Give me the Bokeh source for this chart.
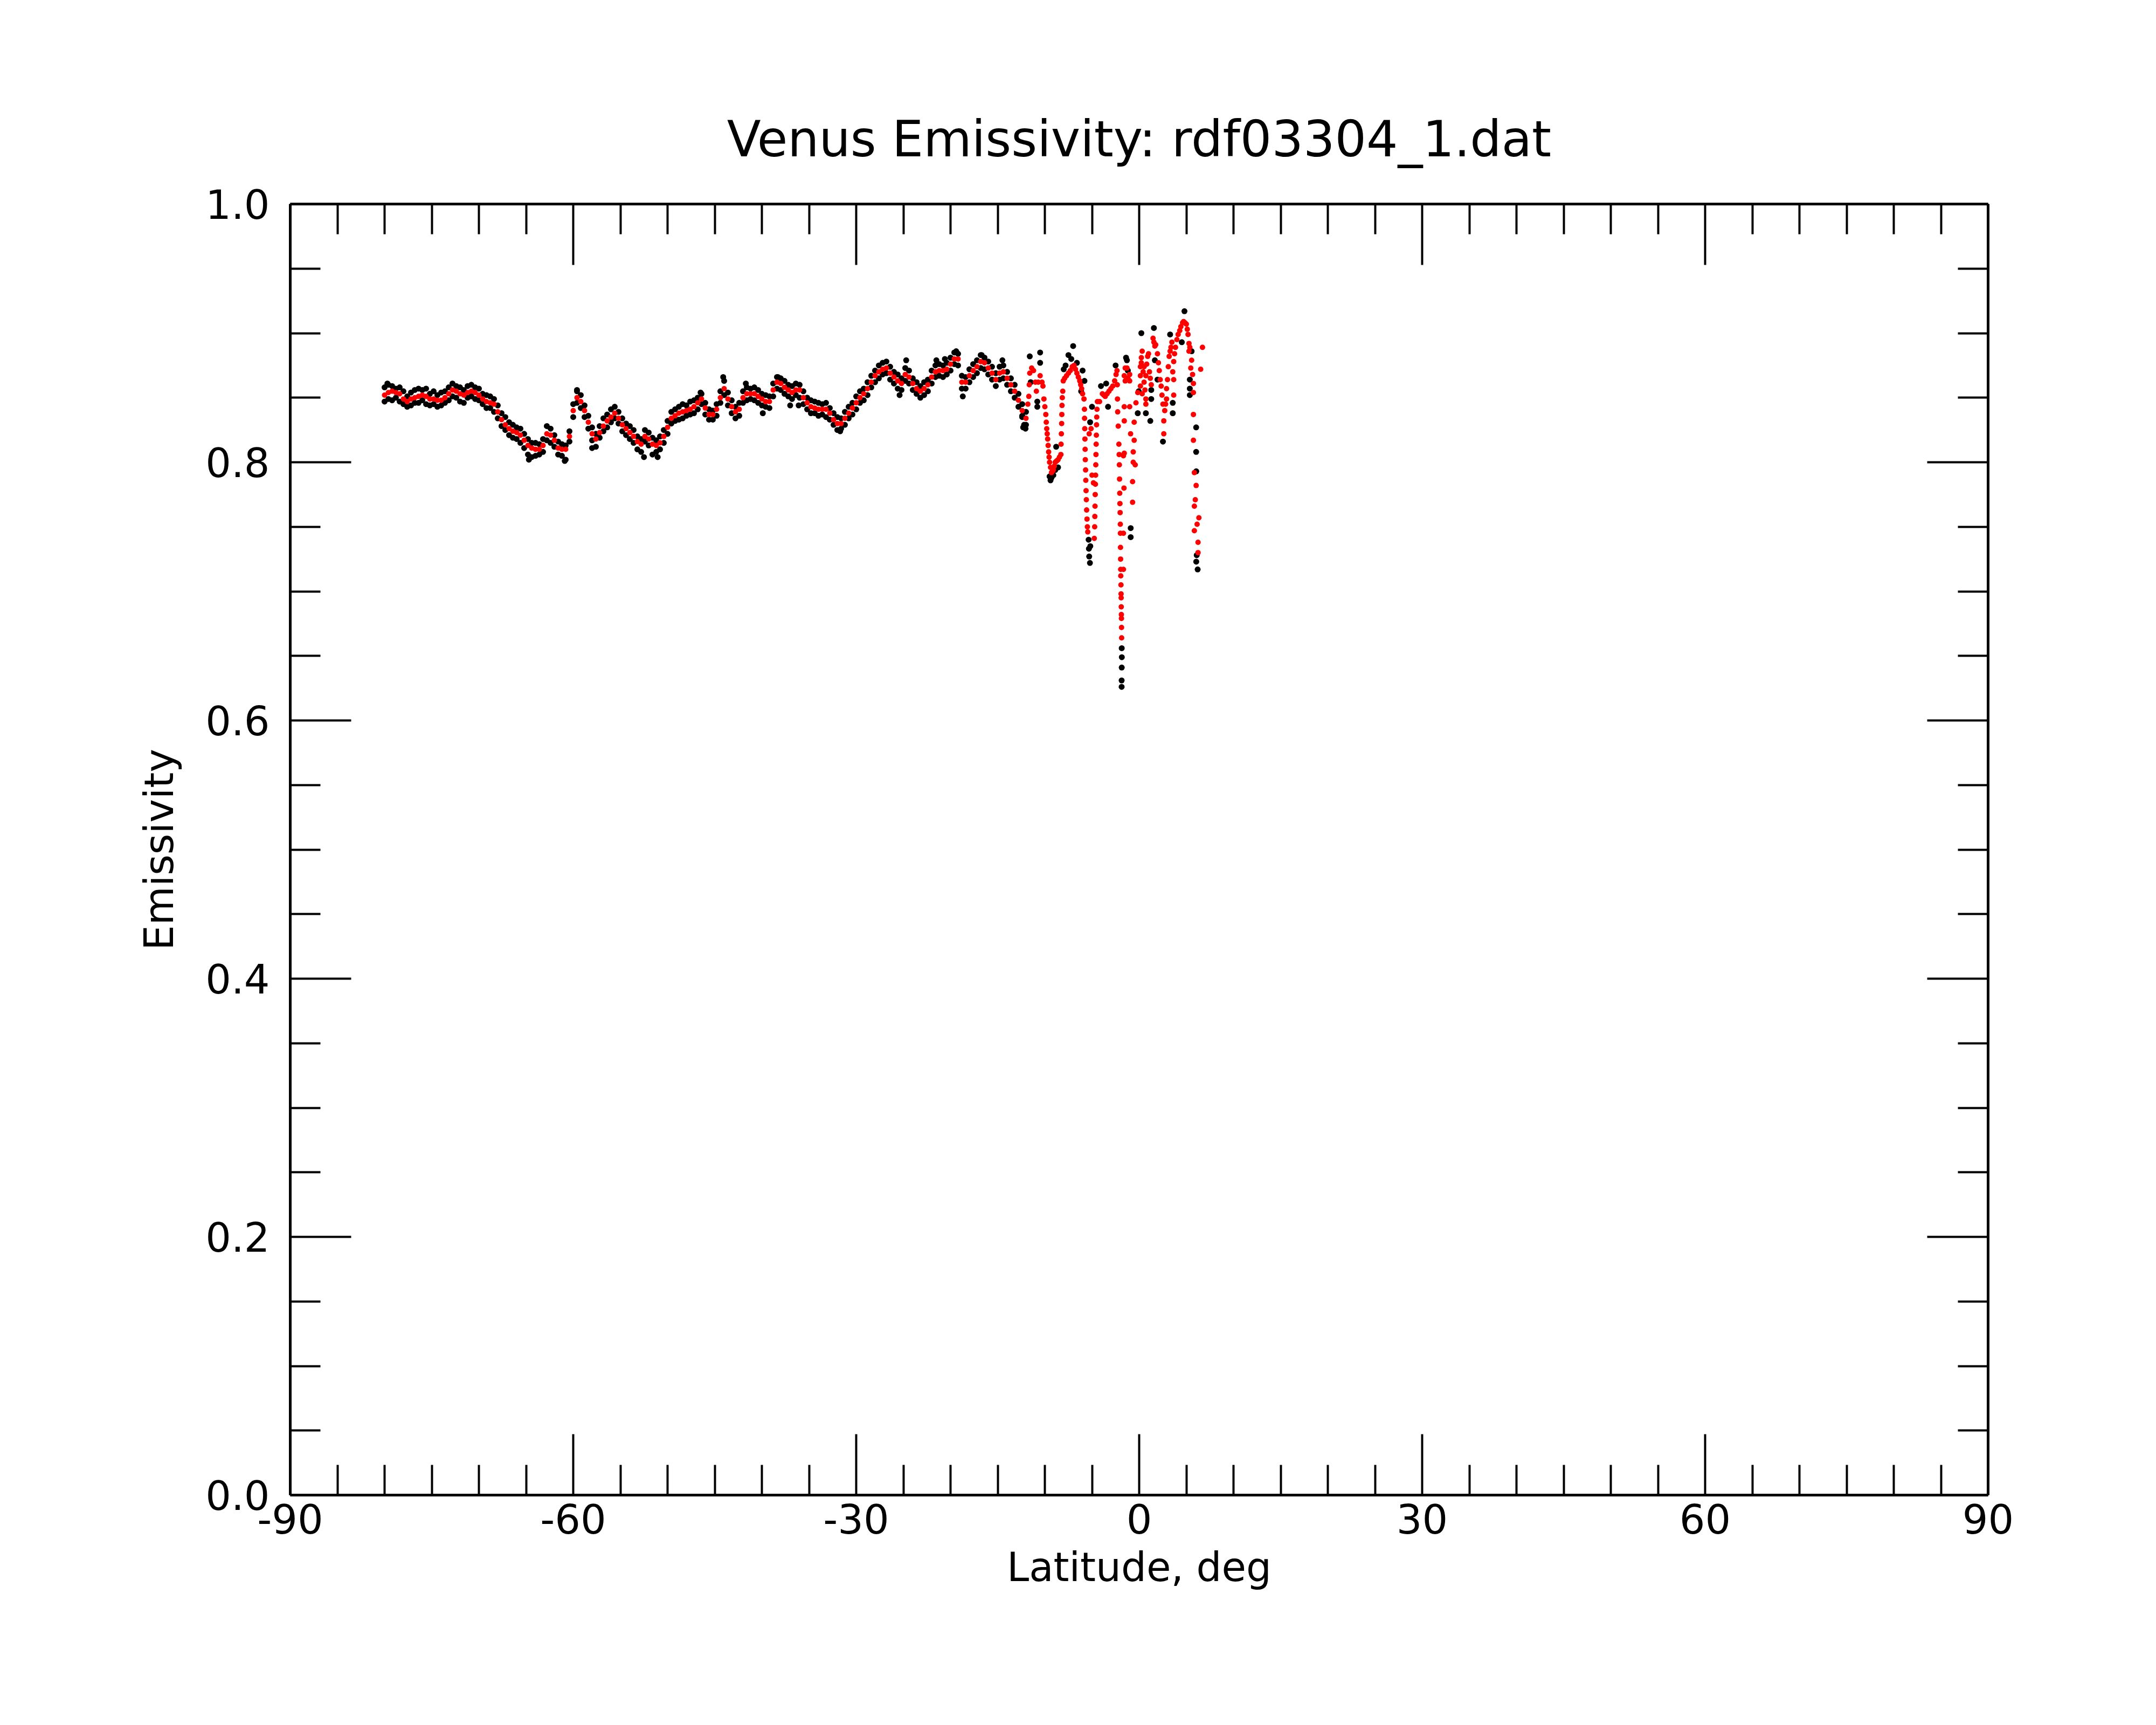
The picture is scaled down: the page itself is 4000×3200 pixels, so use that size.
from bokeh.plotting import figure
from bokeh.models import FixedTicker, LinearAxis, PrintfTickFormatter, CustomJSTickFormatter, Range1d
from bokeh.embed import file_html
from bokeh.resources import INLINE

# ---------------- data ----------------
lat_dense = [
    -80.0, -79.6, -79.2, -78.8, -78.4, -78.0, -77.6, -77.2, -76.8, -76.4,
    -76.0, -75.6, -75.2, -74.8, -74.4, -74.0, -73.6, -73.2, -72.8, -72.4,
    -72.0, -71.6, -71.2, -70.8, -70.4, -70.0, -69.6, -69.2, -68.8, -68.4,
    -68.0, -67.6, -67.2, -66.8, -66.4, -66.0, -65.6, -65.2, -64.8, -64.4,
    -64.0, -63.6, -63.2, -62.8, -62.4, -62.0, -61.6, -61.2, -60.8, -60.4,
    -60.0, -59.6, -59.2, -58.8, -58.4, -58.0, -57.6, -57.2, -56.8, -56.4,
    -56.0, -55.6, -55.2, -54.8, -54.4, -54.0, -53.6, -53.2, -52.8, -52.4,
    -52.0, -51.6, -51.2, -50.8, -50.4, -50.0, -49.6, -49.2, -48.8, -48.4,
    -48.0, -47.6, -47.2, -46.8, -46.4, -46.0, -45.6, -45.2, -44.8, -44.4,
    -44.0, -43.6, -43.2, -42.8, -42.4, -42.0, -41.6, -41.2, -40.8, -40.4,
    -40.0, -39.6, -39.2, -38.8, -38.4, -38.0, -37.6, -37.2, -36.8, -36.4,
    -36.0, -35.6, -35.2, -34.8, -34.4, -34.0, -33.6, -33.2, -32.8, -32.4,
    -32.0, -31.6, -31.2, -30.8, -30.4, -30.0, -29.6, -29.2, -28.8, -28.4,
    -28.0, -27.6, -27.2, -26.8, -26.4, -26.0, -25.6, -25.2, -24.8, -24.4,
    -24.0, -23.6, -23.2, -22.8, -22.4, -22.0, -21.6, -21.2, -20.8, -20.4,
    -20.0, -19.6, -19.2, -18.8, -18.4, -18.0, -17.6, -17.2, -16.8, -16.4,
    -16.0, -15.6, -15.2, -14.8, -14.4, -14.0, -13.6, -13.2, -12.8, -12.4,
    -12.0,
]

# smoothed emissivity (red)
red_dense = [
    0.852, 0.854, 0.855, 0.854, 0.853, 0.849, 0.847, 0.849, 0.850, 0.851,
    0.852, 0.851, 0.849, 0.849, 0.848, 0.848, 0.850, 0.853, 0.856, 0.855,
    0.853, 0.852, 0.854, 0.855, 0.854, 0.852, 0.849, 0.847, 0.846, 0.845,
    0.839, 0.833, 0.829, 0.826, 0.824, 0.823, 0.821, 0.817, 0.813, 0.811,
    0.810, 0.810, 0.813, 0.822, 0.821, 0.817, 0.811, 0.810, 0.810, 0.820,
    0.840, 0.850, 0.847, 0.840, 0.831, 0.822, 0.818, 0.823, 0.828, 0.832,
    0.835, 0.838, 0.834, 0.829, 0.826, 0.823, 0.820, 0.816, 0.814, 0.820,
    0.818, 0.814, 0.813, 0.815, 0.820, 0.827, 0.834, 0.836, 0.838, 0.839,
    0.840, 0.841, 0.843, 0.846, 0.849, 0.842, 0.837, 0.837, 0.841, 0.850,
    0.857, 0.849, 0.843, 0.839, 0.841, 0.850, 0.853, 0.853, 0.853, 0.851,
    0.849, 0.847, 0.847, 0.856, 0.862, 0.861, 0.858, 0.856, 0.854, 0.856,
    0.856, 0.850, 0.846, 0.843, 0.842, 0.841, 0.841, 0.841, 0.838, 0.833,
    0.830, 0.830, 0.834, 0.838, 0.842, 0.846, 0.850, 0.853, 0.857, 0.862,
    0.867, 0.870, 0.872, 0.873, 0.869, 0.866, 0.863, 0.861, 0.868, 0.866,
    0.861, 0.857, 0.855, 0.857, 0.860, 0.866, 0.870, 0.871, 0.871, 0.872,
    0.876, 0.880, 0.880, 0.862, 0.862, 0.867, 0.871, 0.874, 0.878, 0.877,
    0.873, 0.869, 0.864, 0.869, 0.870, 0.865, 0.860, 0.855, 0.848, 0.840,
    0.834,
]

# raw emissivity (black), upper and lower scatter around the smoothed curve
black_hi = [
    0.858, 0.860, 0.859, 0.857, 0.858, 0.855, 0.851, 0.854, 0.856, 0.857,
    0.856, 0.857, 0.853, 0.855, 0.852, 0.854, 0.855, 0.858, 0.861, 0.859,
    0.858, 0.856, 0.859, 0.860, 0.858, 0.857, 0.853, 0.852, 0.851, 0.849,
    0.844, 0.838, 0.835, 0.831, 0.829, 0.827, 0.826, 0.822, 0.818, 0.815,
    0.815, 0.814, 0.818, 0.828, 0.826, 0.821, 0.816, 0.814, 0.813, 0.824,
    0.845, 0.856, 0.852, 0.844, 0.836, 0.827, 0.822, 0.828, 0.834, 0.837,
    0.841, 0.843, 0.839, 0.834, 0.830, 0.828, 0.825, 0.820, 0.818, 0.825,
    0.823, 0.819, 0.817, 0.820, 0.825, 0.832, 0.839, 0.841, 0.843, 0.845,
    0.844, 0.847, 0.848, 0.850, 0.853, 0.846, 0.841, 0.840, 0.845, 0.855,
    0.863, 0.854, 0.848, 0.843, 0.846, 0.855, 0.858, 0.857, 0.858, 0.856,
    0.853, 0.852, 0.851, 0.861, 0.866, 0.865, 0.863, 0.860, 0.859, 0.861,
    0.860, 0.855, 0.850, 0.848, 0.847, 0.846, 0.845, 0.846, 0.842, 0.838,
    0.835, 0.834, 0.839, 0.843, 0.846, 0.851, 0.855, 0.857, 0.862, 0.867,
    0.871, 0.875, 0.877, 0.878, 0.874, 0.870, 0.868, 0.865, 0.873, 0.871,
    0.865, 0.862, 0.859, 0.862, 0.864, 0.871, 0.875, 0.876, 0.875, 0.877,
    0.881, 0.885, 0.884, 0.867, 0.866, 0.872, 0.876, 0.879, 0.883, 0.881,
    0.878, 0.874, 0.869, 0.874, 0.875, 0.870, 0.865, 0.860, 0.853, 0.845,
    0.839,
]
black_lo = [
    0.847, 0.849, 0.848, 0.850, 0.847, 0.845, 0.843, 0.844, 0.846, 0.846,
    0.848, 0.845, 0.844, 0.845, 0.843, 0.844, 0.846, 0.848, 0.851, 0.850,
    0.847, 0.846, 0.850, 0.851, 0.849, 0.848, 0.845, 0.842, 0.842, 0.839,
    0.834, 0.828, 0.825, 0.821, 0.819, 0.818, 0.815, 0.811, 0.806, 0.804,
    0.805, 0.806, 0.808, 0.817, 0.815, 0.812, 0.806, 0.805, 0.802, 0.816,
    0.835, 0.846, 0.842, 0.835, 0.826, 0.817, 0.812, 0.819, 0.824, 0.827,
    0.831, 0.834, 0.830, 0.824, 0.821, 0.818, 0.815, 0.810, 0.808, 0.816,
    0.813, 0.806, 0.808, 0.810, 0.815, 0.822, 0.830, 0.832, 0.833, 0.834,
    0.836, 0.837, 0.838, 0.841, 0.845, 0.837, 0.833, 0.833, 0.836, 0.846,
    0.852, 0.844, 0.838, 0.834, 0.836, 0.846, 0.848, 0.849, 0.848, 0.846,
    0.844, 0.843, 0.842, 0.851, 0.857, 0.856, 0.853, 0.851, 0.849, 0.852,
    0.850, 0.845, 0.841, 0.838, 0.838, 0.836, 0.837, 0.835, 0.833, 0.829,
    0.825, 0.826, 0.829, 0.834, 0.837, 0.841, 0.846, 0.848, 0.852, 0.858,
    0.862, 0.865, 0.868, 0.869, 0.864, 0.861, 0.857, 0.856, 0.863, 0.861,
    0.856, 0.853, 0.850, 0.852, 0.855, 0.861, 0.866, 0.867, 0.866, 0.868,
    0.871, 0.876, 0.875, 0.857, 0.857, 0.862, 0.866, 0.869, 0.873, 0.872,
    0.868, 0.864, 0.859, 0.864, 0.865, 0.860, 0.855, 0.850, 0.843, 0.836,
    0.829,
]

# smoothed emissivity (red) in the sparse equatorial part: (latitude, emissivity)
red_sparse = [
    (-11.8, 0.845), (-11.7, 0.851), (-11.65, 0.860), (-11.6, 0.869), (-11.4, 0.873),
    (-11.2, 0.871), (-11.0, 0.862), (-10.9, 0.855), (-10.7, 0.862), (-10.5, 0.867),
    (-10.3, 0.862), (-10.2, 0.859), (-10.1, 0.849), (-10.0, 0.843), (-9.9, 0.837),
    (-9.85, 0.831), (-9.8, 0.826), (-9.75, 0.822), (-9.7, 0.818), (-9.65, 0.813),
    (-9.6, 0.808), (-9.55, 0.804), (-9.5, 0.800), (-9.4, 0.796), (-9.3, 0.792),
    (-9.2, 0.793), (-9.1, 0.794), (-9.0, 0.797), (-8.9, 0.800), (-8.75, 0.801),
    (-8.6, 0.802), (-8.45, 0.804), (-8.3, 0.806), (-8.28, 0.814), (-8.25, 0.822),
    (-8.22, 0.830), (-8.2, 0.837), (-8.18, 0.844), (-8.15, 0.850), (-8.1, 0.855),
    (-8.05, 0.863), (-7.9, 0.865), (-7.7, 0.867), (-7.5, 0.869), (-7.3, 0.871),
    (-7.1, 0.874), (-6.9, 0.875), (-6.75, 0.872), (-6.6, 0.869), (-6.45, 0.866),
    (-6.3, 0.863), (-6.2, 0.860), (-6.1, 0.857), (-6.0, 0.853), (-5.85, 0.849),
    (-5.80, 0.841), (-5.79, 0.834), (-5.77, 0.826), (-5.75, 0.818), (-5.73, 0.810),
    (-5.71, 0.802), (-5.68, 0.794), (-5.66, 0.786), (-5.63, 0.778), (-5.60, 0.771),
    (-5.57, 0.763), (-5.53, 0.756), (-5.49, 0.750), (-5.45, 0.746),
    (-5.3, 0.822), (-5.1, 0.826), (-5.0, 0.790), (-4.85, 0.784),
    (-4.76, 0.741), (-4.72, 0.750), (-4.70, 0.758), (-4.68, 0.766), (-4.66, 0.775),
    (-4.64, 0.783), (-4.62, 0.790), (-4.60, 0.798), (-4.58, 0.806), (-4.56, 0.814),
    (-4.54, 0.821), (-4.52, 0.829), (-4.50, 0.835), (-4.47, 0.841), (-4.43, 0.847),
    (-4.2, 0.847), (-3.9, 0.853), (-3.75, 0.852), (-3.6, 0.851), (-3.4, 0.853),
    (-3.2, 0.855), (-3.0, 0.857), (-2.8, 0.859), (-2.6, 0.863), (-2.45, 0.868),
    (-2.35, 0.871),
    (-2.32, 0.860), (-2.30, 0.849), (-2.28, 0.839), (-2.22, 0.828), (-2.15, 0.814),
    (-2.12, 0.806), (-2.10, 0.798), (-2.08, 0.787), (-2.06, 0.776), (-2.04, 0.768),
    (-2.02, 0.761), (-2.00, 0.752), (-1.99, 0.745), (-1.98, 0.734), (-1.97, 0.725),
    (-1.96, 0.717), (-1.95, 0.712), (-1.93, 0.705), (-1.92, 0.698), (-1.91, 0.695),
    (-1.90, 0.688), (-1.89, 0.682), (-1.88, 0.679), (-1.87, 0.672), (-1.86, 0.664),
    (-1.67, 0.717), (-1.67, 0.745), (-1.61, 0.780), (-1.67, 0.805), (-1.58, 0.807),
    (-1.58, 0.832), (-1.58, 0.843), (-1.58, 0.867), (-1.48, 0.873), (-1.48, 0.863),
    (-1.29, 0.873), (-1.2, 0.865), (-1.01, 0.868), (-1.01, 0.863), (-1.01, 0.843),
    (-0.91, 0.822), (-0.70, 0.785), (-0.70, 0.769), (-0.63, 0.808), (-0.63, 0.800),
    (-0.53, 0.831), (-0.53, 0.817), (-0.42, 0.798), (-0.34, 0.846), (-0.15, 0.854),
    (0.13, 0.859), (0.32, 0.853), (0.32, 0.886), (0.23, 0.881), (0.13, 0.874),
    (0.52, 0.874), (0.13, 0.867), (0.71, 0.867), (0.90, 0.882), (0.99, 0.884),
    (1.09, 0.870), (0.71, 0.849), (0.71, 0.845), (1.28, 0.860), (1.47, 0.896),
    (1.75, 0.891), (1.94, 0.884), (2.04, 0.877), (2.13, 0.871), (2.23, 0.864),
    (2.33, 0.859), (2.42, 0.852), (2.52, 0.845), (2.71, 0.840), (2.61, 0.832),
    (2.61, 0.822), (2.90, 0.849), (2.90, 0.857), (3.00, 0.864), (3.09, 0.874),
    (3.18, 0.882), (3.37, 0.889), (3.47, 0.893), (3.66, 0.852), (3.66, 0.864),
    (3.66, 0.878), (3.85, 0.889), (4.13, 0.899), (4.42, 0.905), (4.71, 0.909),
    (5.00, 0.907), (5.18, 0.899), (5.28, 0.892), (5.28, 0.886), (5.56, 0.879),
    (5.47, 0.873), (5.66, 0.868), (5.75, 0.861), (5.75, 0.854), (5.75, 0.837),
    (5.75, 0.817), (6.71, 0.889), (6.52, 0.872),
    (0.23, 0.877), (0.42, 0.870), (0.52, 0.862), (0.61, 0.856), (0.80, 0.876),
    (1.18, 0.865), (1.56, 0.893), (1.66, 0.890), (2.80, 0.845), (3.28, 0.886),
    (3.56, 0.870), (3.75, 0.884), (4.00, 0.895), (4.30, 0.902), (4.60, 0.908),
    (4.85, 0.908), (5.10, 0.903), (5.37, 0.889),
    (5.85, 0.792), (6.04, 0.782), (5.95, 0.771), (5.85, 0.766), (6.33, 0.757),
    (6.14, 0.752), (5.85, 0.747), (6.24, 0.738), (6.24, 0.730),
]

# raw emissivity (black) points that stand out: (latitude, emissivity)
black_extra = [
    (-79.7, 0.861), (-64.7, 0.802), (-60.9, 0.801), (-58.0, 0.811), (-52.5, 0.804),
    (-51.05, 0.804), (-44.1, 0.866), (-41.7, 0.861), (-38.3, 0.866), (-39.9, 0.838),
    (-37.0, 0.844), (-36.1, 0.844), (-46.5, 0.854), (-31.7, 0.824), (-59.6, 0.855),
    (-25.4, 0.852), (-24.7, 0.879), (-21.5, 0.879), (-20.6, 0.880), (-19.4, 0.886),
    (-18.7, 0.851), (-16.7, 0.883), (-14.5, 0.879), (-12.3, 0.827), (-12.05, 0.826),
    (-12.4, 0.835), (-12.2, 0.829), (-11.5, 0.862),
    (-11.6, 0.882), (-10.5, 0.885), (-10.5, 0.877), (-10.8, 0.847), (-10.8, 0.843),
    (-9.5, 0.789), (-9.4, 0.786), (-9.3, 0.788), (-9.1, 0.790), (-8.9, 0.794),
    (-8.8, 0.812), (-8.6, 0.796), (-8.0, 0.872), (-7.8, 0.875), (-7.5, 0.883),
    (-7.2, 0.880), (-7.0, 0.890), (-6.6, 0.877), (-6.15, 0.855), (-6.0, 0.871),
    (-5.8, 0.863), (-5.2, 0.831), (-5.0, 0.843),
    (-5.36, 0.740), (-5.33, 0.733), (-5.30, 0.727), (-5.22, 0.722), (-5.18, 0.735),
    (-4.05, 0.859), (-3.5, 0.861), (-3.3, 0.843), (-2.5, 0.875),
    (-1.85, 0.656), (-1.84, 0.649), (-1.85, 0.641), (-1.86, 0.631), (-1.86, 0.626),
    (-1.39, 0.881), (-1.3, 0.879), (-1.2, 0.871), (-0.9, 0.749), (-0.9, 0.742),
    (-0.15, 0.838), (-0.05, 0.855), (0.23, 0.900), (0.71, 0.838), (1.18, 0.832),
    (1.28, 0.856), (1.28, 0.849), (1.56, 0.904), (1.66, 0.879), (1.94, 0.864),
    (2.52, 0.816), (3.28, 0.899), (3.56, 0.846), (3.56, 0.838), (4.52, 0.893),
    (4.80, 0.917), (5.37, 0.864), (5.37, 0.857), (5.37, 0.852), (5.56, 0.886),
    (6.04, 0.827), (6.04, 0.808), (6.05, 0.793), (6.1, 0.728), (6.05, 0.723),
    (6.2, 0.717),
]

x_major = [-90, -60, -30, 0, 30, 60, 90]
x_minor = [-85, -80, -75, -70, -65, -55, -50, -45, -40, -35, -25, -20, -15, -10, -5,
           5, 10, 15, 20, 25, 35, 40, 45, 50, 55, 65, 70, 75, 80, 85]
y_major = [0.0, 0.2, 0.4, 0.6, 0.8, 1.0]
y_minor = [0.05, 0.1, 0.15, 0.25, 0.3, 0.35, 0.45, 0.5, 0.55, 0.65, 0.7, 0.75,
           0.85, 0.9, 0.95]

title_text = "Venus Emissivity: rdf03304_1.dat"
x_label = "Latitude, deg"
y_label = "Emissivity"

# ---------------- figure ----------------
FONT = "DejaVu Sans"
p = figure(width=3984, height=3184,
           x_range=Range1d(-90, 90), y_range=Range1d(0, 1),
           output_backend="svg", toolbar_location=None,
           min_border_left=538, min_border_right=296,
           min_border_top=378, min_border_bottom=411)
p.background_fill_color = "white"
p.border_fill_color = "white"
p.outline_line_color = None
p.xgrid.visible = False
p.ygrid.visible = False

p.title.text = title_text
p.title.align = "center"
p.title.text_font = FONT
p.title.text_font_size = "92px"
p.title.text_font_style = "normal"
p.title.text_color = "black"
p.title.standoff = 134


def style_axis(ax, major, minor, fmt, labels):
    ax.ticker = FixedTicker(ticks=major, minor_ticks=minor)
    ax.axis_line_color = "black"
    ax.axis_line_width = 5
    ax.major_tick_line_color = "black"
    ax.minor_tick_line_color = "black"
    ax.major_tick_line_width = 4
    ax.minor_tick_line_width = 4
    ax.major_tick_in = 113
    ax.major_tick_out = 0
    ax.minor_tick_in = 56
    ax.minor_tick_out = 0
    ax.major_label_text_font = FONT
    ax.major_label_text_color = "black"
    if labels:
        ax.formatter = PrintfTickFormatter(format=fmt)
        ax.major_label_text_font_size = "75px"
    else:
        # mirrored axis: ticks only, no labels
        ax.formatter = CustomJSTickFormatter(code="return ''")
        ax.major_label_text_font_size = "1px"
        ax.major_label_standoff = 0
    ax.axis_label_text_font = FONT
    ax.axis_label_text_font_size = "74px"
    ax.axis_label_text_font_style = "normal"
    ax.axis_label_text_color = "black"


xa = p.xaxis[0]
style_axis(xa, x_major, x_minor, "%d", True)
xa.axis_label = x_label
xa.major_label_standoff = 16
xa.axis_label_standoff = 16

ya = p.yaxis[0]
style_axis(ya, y_major, y_minor, "%.1f", True)
ya.axis_label = y_label
ya.major_label_standoff = 38
ya.axis_label_standoff = 40

xt = LinearAxis()
style_axis(xt, x_major, x_minor, "%d", False)
p.add_layout(xt, "above")

yr = LinearAxis()
style_axis(yr, y_major, y_minor, "%.1f", False)
p.add_layout(yr, "right")

# ---------------- marks ----------------
bx = [pt[0] for pt in black_extra]
by = [pt[1] for pt in black_extra]
rx = [pt[0] for pt in red_sparse]
ry = [pt[1] for pt in red_sparse]

p.scatter(lat_dense, black_hi, marker="circle", size=11, fill_color="black", line_color=None)
p.scatter(lat_dense, black_lo, marker="circle", size=11, fill_color="black", line_color=None)
p.scatter(bx, by, marker="circle", size=11, fill_color="black", line_color=None)
p.scatter(lat_dense, red_dense, marker="circle", size=10, fill_color="#ff0000", line_color=None)
p.scatter(rx, ry, marker="circle", size=10, fill_color="#ff0000", line_color=None)

open("out.html", "w").write(file_html(p, INLINE))
